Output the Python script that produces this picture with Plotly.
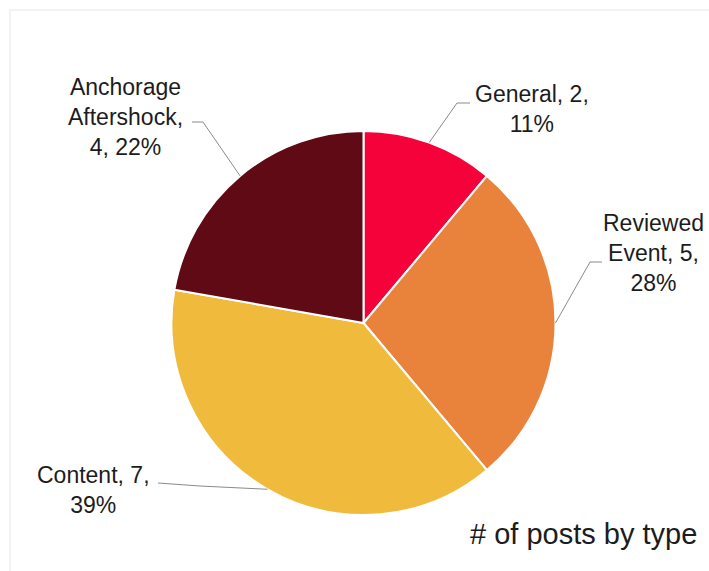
import math
import plotly.graph_objects as go

# Post counts by type (clockwise from 12 o'clock)
categories = ["General", "Reviewed Event", "Content", "Anchorage Aftershock"]
counts = [2, 5, 7, 4]
colors = ["#f5023b", "#e9823a", "#f0bb3d", "#5f0a15"]
# Text shown beside each slice (line breaks as laid out)
label_lines = {
    "General": ["General, 2,", "11%"],
    "Reviewed Event": ["Reviewed", "Event, 5,", "28%"],
    "Content": ["Content, 7,", "39%"],
    "Anchorage Aftershock": ["Anchorage", "Aftershock,", "4, 22%"],
}
title_text = "# of posts by type"

W, H = 709, 571
CX, CY, R = 363.5, 323.0, 192.0  # pie centre/radius in pixels

# Label placement: elbow point of leader, end of leader, text block centre
placement = {
    "General": dict(elbow=(457, 103), end=(470, 103), text=(532, 109)),
    "Reviewed Event": dict(elbow=(590, 262), end=(602, 262), text=(653, 253)),
    "Content": dict(elbow=(200, 486), end=(158, 483), text=(93, 490)),
    "Anchorage Aftershock": dict(elbow=(203, 122), end=(192, 122), text=(125, 117)),
}


def px(x):
    return x / W


def py(y):
    return 1 - y / H


fig = go.Figure(
    go.Pie(
        labels=categories,
        values=counts,
        sort=False,
        direction="clockwise",
        rotation=0,
        marker=dict(colors=colors, line=dict(color="white", width=2)),
        textinfo="none",
        hoverinfo="label+value+percent",
        showlegend=False,
        domain=dict(x=[px(CX - R), px(CX + R)], y=[py(CY + R), py(CY - R)]),
    )
)

total = sum(counts)
cum = 0
shapes = []
annotations = []
for cat, val in zip(categories, counts):
    mid = (cum + val / 2) / total * 2 * math.pi
    cum += val
    sx = CX + R * math.sin(mid)
    sy = CY - R * math.cos(mid)
    p = placement[cat]
    ex, ey = p["elbow"]
    tx, ty = p["end"]
    path = f"M {px(sx)},{py(sy)} L {px(ex)},{py(ey)} L {px(tx)},{py(ty)}"
    shapes.append(
        dict(type="path", xref="paper", yref="paper", path=path,
             line=dict(color="#8a8a8a", width=1))
    )
    cx_, cy_ = p["text"]
    annotations.append(
        dict(x=px(cx_), y=py(cy_), xref="paper", yref="paper",
             text="<br>".join(label_lines[cat]), showarrow=False,
             xanchor="center", yanchor="middle", align="center",
             font=dict(family="Arial, Liberation Sans, sans-serif", size=23, color="#1c1c1c"))
    )

# Chart title at bottom right
annotations.append(
    dict(x=px(583), y=py(534), xref="paper", yref="paper", text=title_text,
         showarrow=False, xanchor="center", yanchor="middle",
         font=dict(family="Arial, Liberation Sans, sans-serif", size=29, color="#1c1c1c"))
)

# Faint frame around the chart area
shapes.append(
    dict(type="path", xref="paper", yref="paper",
         path=f"M {px(10)},{py(H + 5)} L {px(10)},{py(10)} L {px(W + 5)},{py(10)}",
         line=dict(color="#efefef", width=1.5))
)

fig.update_layout(
    width=W, height=H,
    margin=dict(l=0, r=0, t=0, b=0),
    paper_bgcolor="white",
    plot_bgcolor="white",
    shapes=shapes,
    annotations=annotations,
)

fig.write_html("out.html")
